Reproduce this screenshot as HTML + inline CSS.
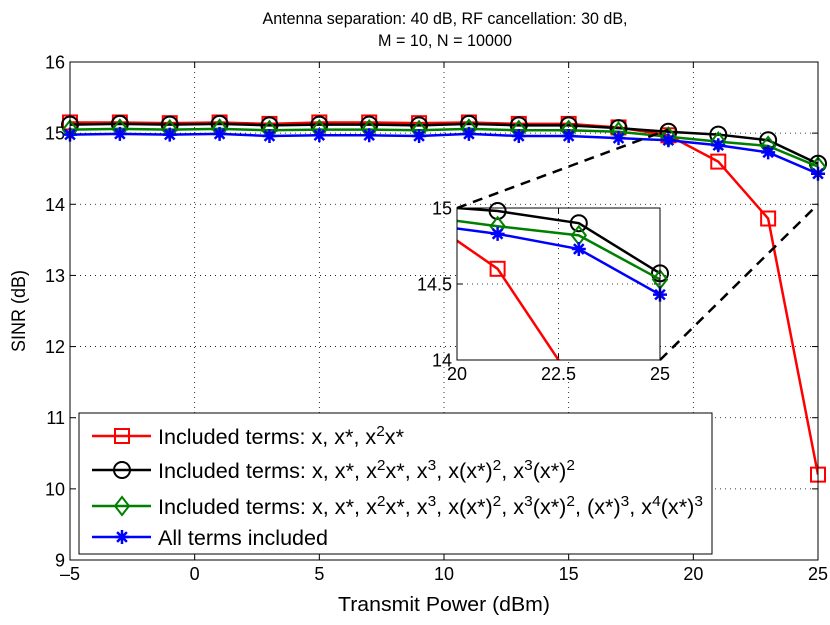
<!DOCTYPE html>
<html><head><meta charset="utf-8"><style>
html,body{margin:0;padding:0;background:#fff;overflow:hidden;width:830px;height:625px}
svg{display:block}
svg text{font-family:"Liberation Sans",sans-serif;fill:#000}
</style></head><body>
<svg id="chart" width="830" height="625" xmlns="http://www.w3.org/2000/svg">
<text x="445" y="24" font-size="17" text-anchor="middle" textLength="365" lengthAdjust="spacingAndGlyphs">Antenna separation: 40 dB, RF cancellation: 30 dB,</text>
<text x="445" y="46" font-size="17" text-anchor="middle" textLength="134" lengthAdjust="spacingAndGlyphs">M = 10, N = 10000</text>
<text x="444" y="611" font-size="20" text-anchor="middle" textLength="212" lengthAdjust="spacingAndGlyphs">Transmit Power (dBm)</text>
<text transform="translate(25,311) rotate(-90)" font-size="19" text-anchor="middle" textLength="82" lengthAdjust="spacingAndGlyphs">SINR (dB)</text>
<g id="main"></g>
<g id="inset"></g>
<g id="legend"></g>
</svg>
<script>
const xs=[-5,-3,-1,1,3,5,7,9,11,13,15,17,19,21,23,25];
const redVals=[15.15,15.15,15.14,15.15,15.13,15.15,15.15,15.14,15.15,15.13,15.13,15.08,14.97,14.6,13.8,10.2];
const blackVals=[15.12,15.13,15.12,15.13,15.11,15.12,15.12,15.11,15.13,15.11,15.11,15.07,15.02,14.98,14.9,14.57];
const greenVals=[15.05,15.06,15.05,15.06,15.04,15.05,15.05,15.04,15.06,15.04,15.04,15.02,14.95,14.88,14.82,14.53];
const blueVals=[14.98,14.99,14.98,14.99,14.96,14.97,14.97,14.96,14.99,14.96,14.96,14.93,14.9,14.83,14.73,14.43];
const xTicks=[-5,0,5,10,15,20,25];
const yTicks=[9,10,11,12,13,14,15,16];
const insetXTicks=[20,22.5,25];
const insetYTicks=[14,14.5,15];
const legendLabels=['Included terms: x, x*, x<tspan dy="-8" font-size="15">2</tspan><tspan dy="8">x*</tspan>',
'Included terms: x, x*, x<tspan dy="-8" font-size="15">2</tspan><tspan dy="8">x*, x</tspan><tspan dy="-8" font-size="15">3</tspan><tspan dy="8">, x(x*)</tspan><tspan dy="-8" font-size="15">2</tspan><tspan dy="8">, x</tspan><tspan dy="-8" font-size="15">3</tspan><tspan dy="8">(x*)</tspan><tspan dy="-8" font-size="15">2</tspan>',
'Included terms: x, x*, x<tspan dy="-8" font-size="15">2</tspan><tspan dy="8">x*, x</tspan><tspan dy="-8" font-size="15">3</tspan><tspan dy="8">, x(x*)</tspan><tspan dy="-8" font-size="15">2</tspan><tspan dy="8">, x</tspan><tspan dy="-8" font-size="15">3</tspan><tspan dy="8">(x*)</tspan><tspan dy="-8" font-size="15">2</tspan><tspan dy="8">, (x*)</tspan><tspan dy="-8" font-size="15">3</tspan><tspan dy="8">, x</tspan><tspan dy="-8" font-size="15">4</tspan><tspan dy="8">(x*)</tspan><tspan dy="-8" font-size="15">3</tspan>',
'All terms included'];
const legendWidths=[246,417,545,170];
const series=[{n:'red',v:redVals,c:'#ff0000',m:'sq'},{n:'black',v:blackVals,c:'#000',m:'ci'},{n:'green',v:greenVals,c:'#008000',m:'di'},{n:'blue',v:blueVals,c:'#0000ff',m:'st'}];
const NS='http://www.w3.org/2000/svg';
function mk(p,t,a){const e=document.createElementNS(NS,t);for(const k in a)e.setAttribute(k,a[k]);p.appendChild(e);return e;}
function marker(g,m,x,y,c,s){
 if(m==='sq')return mk(g,'rect',{x:x-s,y:y-s,width:2*s,height:2*s,fill:'none',stroke:c,'stroke-width':2});
 if(m==='ci')return mk(g,'circle',{cx:x,cy:y,r:s+1,fill:'none',stroke:c,'stroke-width':2});
 if(m==='di')return mk(g,'path',{d:`M${x},${y-s-2}L${x+s},${y}L${x},${y+s+2}L${x-s},${y}Z`,fill:'none',stroke:c,'stroke-width':2});
 const r=s;return mk(g,'path',{d:`M${x-r},${y}H${x+r}M${x},${y-r}V${y+r}M${x-r*.7},${y-r*.7}L${x+r*.7},${y+r*.7}M${x-r*.7},${y+r*.7}L${x+r*.7},${y-r*.7}`,stroke:c,'stroke-width':2.5});
}
function drawAxes(g,L,R,T,B,x0,x1,y0,y1,xt,yt,fs,name){
 const sx=v=>L+(v-x0)/(x1-x0)*(R-L), sy=v=>B-(v-y0)/(y1-y0)*(B-T);
 mk(g,'rect',{x:L,y:T,width:R-L,height:B-T,fill:'#fff',stroke:'none'});
 xt.forEach(v=>{const x=sx(v);if(x>L+1&&x<R-1)mk(g,'line',{x1:x,x2:x,y1:T,y2:B,stroke:'#000','stroke-width':0.8,'stroke-dasharray':'1,4'});
  mk(g,'line',{x1:x,x2:x,y1:B,y2:B-6,stroke:'#000'});mk(g,'line',{x1:x,x2:x,y1:T,y2:T+6,stroke:'#000'});
  const t=mk(g,'text',{x:x,y:B+fs+2,'font-size':fs,'text-anchor':'middle'});t.textContent=(v<0?'\u2013'+(-v):v);
  
  });
 yt.forEach(v=>{const y=sy(v);if(y>T+1&&y<B-1)mk(g,'line',{x1:L,x2:R,y1:y,y2:y,stroke:'#000','stroke-width':0.8,'stroke-dasharray':'1,4'});
  mk(g,'line',{x1:L,x2:L+6,y1:y,y2:y,stroke:'#000'});mk(g,'line',{x1:R,x2:R-6,y1:y,y2:y,stroke:'#000'});
  const t=mk(g,'text',{x:L-5,y:y+fs*0.36,'font-size':fs,'text-anchor':'end'});t.textContent=v;
  
  });
 series.forEach(s=>{
  const sg=mk(g,'g',{});
  
  
  const pts=[];xs.forEach((x,i)=>{pts.push([sx(x),sy(s.v[i])]);});
  const cp=mk(sg,'clipPath',{id:'cp'+name+s.n});mk(cp,'rect',{x:L,y:T,width:R-L,height:B-T});
  mk(sg,'polyline',{points:pts.map(p=>p.join(',')).join(' '),fill:'none',stroke:s.c,'stroke-width':2.5,'clip-path':`url(#cp${name}${s.n})`});
  pts.forEach(p=>{if(p[0]>=L-1&&p[0]<=R+1&&p[1]>=T-1&&p[1]<=B+1)marker(sg,s.m,p[0],p[1],s.c,7);});
 });
 mk(g,'rect',{x:L,y:T,width:R-L,height:B-T,fill:'none',stroke:'#000','stroke-width':1});
 return {sx,sy};
}
const main=document.getElementById('main');
const A=drawAxes(main,70,818,62,560,-5,25,9,16,xTicks,yTicks,18,'main');
const ins=document.getElementById('inset');
const d1=mk(ins,'line',{x1:457,y1:208,x2:A.sx(19),y2:A.sy(15.05),stroke:'#000','stroke-width':2.5,'stroke-dasharray':'10,7'});

const d2=mk(ins,'line',{x1:660,y1:360,x2:A.sx(25),y2:A.sy(14),stroke:'#000','stroke-width':2.5,'stroke-dasharray':'10,7'});

const ig=mk(ins,'g',{});


drawAxes(ig,457,660,208,360,20,25,14,15,insetXTicks,insetYTicks,18,'inset');
const lg=document.getElementById('legend');
const box=mk(lg,'rect',{x:79,y:413,width:633,height:141,fill:'#fff',stroke:'#000'});

series.forEach((s,i)=>{
 const y=[436,470,506,537][i];
 const eg=mk(lg,'g',{});
 
 
 mk(eg,'line',{x1:92,x2:151,y1:y,y2:y,stroke:s.c,'stroke-width':2.5});
 marker(eg,s.m,122,y,s.c,7);
 const t=mk(eg,'text',{x:158,y:y+8,'font-size':21,textLength:legendWidths[i],lengthAdjust:'spacingAndGlyphs'});t.innerHTML=legendLabels[i];
});
</script>
</body></html>
